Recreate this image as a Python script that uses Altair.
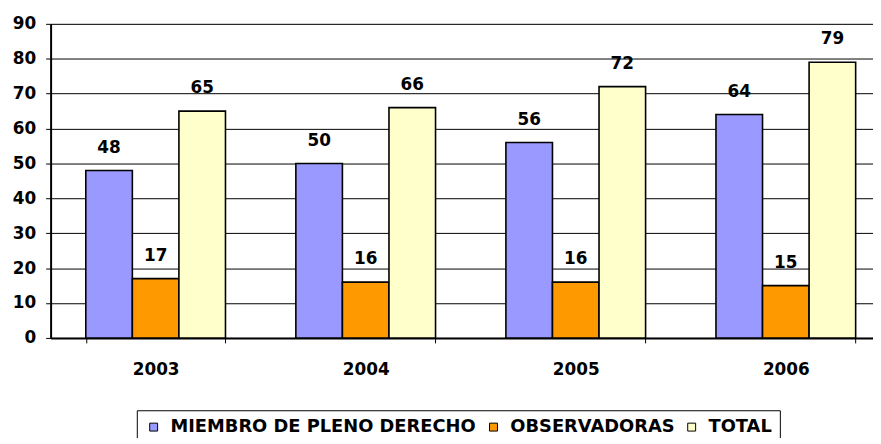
import altair as alt
import pandas as pd

years = ["2003", "2004", "2005", "2006"]
series = ["MIEMBRO DE PLENO DERECHO", "OBSERVADORAS", "TOTAL"]
miembro = [48, 50, 56, 64]
observadoras = [17, 16, 16, 15]
total = [65, 66, 72, 79]
colors = ["#9999FF", "#FF9900", "#FFFFCC"]
y_ticks = list(range(0, 91, 10))

rows = []
for i, yr in enumerate(years):
    for s, vals in zip(series, [miembro, observadoras, total]):
        rows.append({"year": yr, "series": s, "value": vals[i]})
df = pd.DataFrame(rows)

FONT = "DejaVu Sans"

x = alt.X(
    "year:N",
    sort=years,
    scale=alt.Scale(paddingInner=0.335, paddingOuter=0.1675),
    axis=alt.Axis(
        title=None, tickBand="extent", labelAngle=0, labelFont=FONT,
        labelFontWeight="bold", labelFontSize=17, labelColor="black",
        tickColor="black", tickSize=5, domainColor="black", domainWidth=2,
        labelPadding=19, grid=False,
    ),
)
xoff = alt.XOffset("series:N", sort=series,
                   scale=alt.Scale(paddingInner=0, paddingOuter=0))
y = alt.Y(
    "value:Q",
    scale=alt.Scale(domain=[0, 90], nice=False),
    axis=alt.Axis(
        title=None, values=y_ticks, labelFont=FONT, labelFontWeight="bold",
        labelFontSize=17, labelColor="black", tickColor="black", tickSize=5,
        domainColor="black", domainWidth=2, labelPadding=10,
        gridColor="black", gridWidth=1,
    ),
)

bars = alt.Chart(df).mark_bar(stroke="black", strokeWidth=1.6).encode(
    x=x, xOffset=xoff, y=y,
    color=alt.Color(
        "series:N", sort=series,
        scale=alt.Scale(domain=series, range=colors),
        legend=alt.Legend(
            title=None, orient="none", legendX=87, legendY=390,
            direction="horizontal", strokeColor="black", padding=8,
            symbolType="square", symbolSize=64, symbolStrokeColor="black",
            symbolStrokeWidth=1, symbolOpacity=1, labelFont=FONT,
            labelFontWeight="bold", labelFontSize=18, labelColor="black",
            labelLimit=1000, columnPadding=8, labelOffset=8,
        ),
    ),
)

labels = alt.Chart(df).mark_text(
    font=FONT, fontWeight="bold", fontSize=17, color="black",
    baseline="alphabetic", dy=-18,
).encode(x=x, xOffset=xoff, y=y, text="value:Q")

chart = alt.layer(bars, labels).properties(
    width=848, height=317,
    autosize=alt.AutoSizeParams(type="none"),
    padding={"left": 43, "top": 14, "right": -18, "bottom": 99},
).configure_view(stroke=None).configure(background="white")

chart.save("out.html", embed_options={"renderer": "svg", "actions": False})
